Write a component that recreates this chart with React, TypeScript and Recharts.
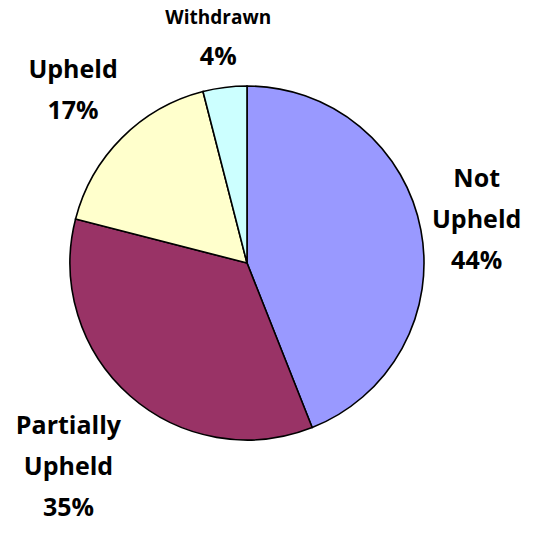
import { PieChart, Pie, Cell } from "recharts"

// outcome categories, clockwise from 12 o'clock
const outcomes = ["Not Upheld", "Partially Upheld", "Upheld", "Withdrawn"]
const shares = [44, 35, 17, 4]
const colors = ["#9999FF", "#993366", "#FFFFCC", "#CCFFFF"]

const data = outcomes.map((name, i) => ({ name, value: shares[i] }))

const RAD = Math.PI / 180
const LINE_H = 41
const FONT = "'Open Sans', sans-serif"

const renderLabel = (props: any) => {
  const { cx, cy, midAngle, outerRadius, name, percent } = props
  const words: string[] = name.split(" ")
  const lines = [...words, `${Math.round(percent * 100)}%`]
  const smallName = name === "Withdrawn"

  // rough box size of the label, so the box sits just outside the pie
  const halfW = Math.max(...lines.map((l) => l.length)) * 7.5
  const halfH = (lines.length * LINE_H) / 2
  const dx = Math.cos(-midAngle * RAD)
  const dy = Math.sin(-midAngle * RAD)
  const edge = Math.min(
    Math.abs(dx) > 0.001 ? halfW / Math.abs(dx) : 9999,
    Math.abs(dy) > 0.001 ? halfH / Math.abs(dy) : 9999
  )
  const r = outerRadius + 11 + edge
  const x = cx + r * dx
  const y = cy + r * dy
  const top = y - ((lines.length - 1) / 2) * LINE_H + 9

  return (
    <text x={x} y={top} textAnchor="middle" fill="#000" fontFamily={FONT} fontWeight="bold">
      {lines.map((line, i) => (
        <tspan
          key={i}
          x={x}
          y={top + i * LINE_H}
          fontSize={smallName && i === 0 ? 19 : 25}
        >
          {line}
        </tspan>
      ))}
    </text>
  )
}

export default function App() {
  return (
    <div style={{ position: "absolute", left: 0, top: 0, background: "#fff" }}>
      <PieChart width={545} height={541} margin={{ top: 0, right: 0, bottom: 0, left: 0 }}>
        <Pie
          data={data}
          dataKey="value"
          nameKey="name"
          cx={247}
          cy={263}
          outerRadius={177}
          startAngle={90}
          endAngle={-270}
          stroke="#000"
          strokeWidth={1.6}
          label={renderLabel}
          labelLine={false}
          isAnimationActive={false}
        >
          {data.map((d, i) => (
            <Cell key={d.name} fill={colors[i]} />
          ))}
        </Pie>
      </PieChart>
    </div>
  )
}
